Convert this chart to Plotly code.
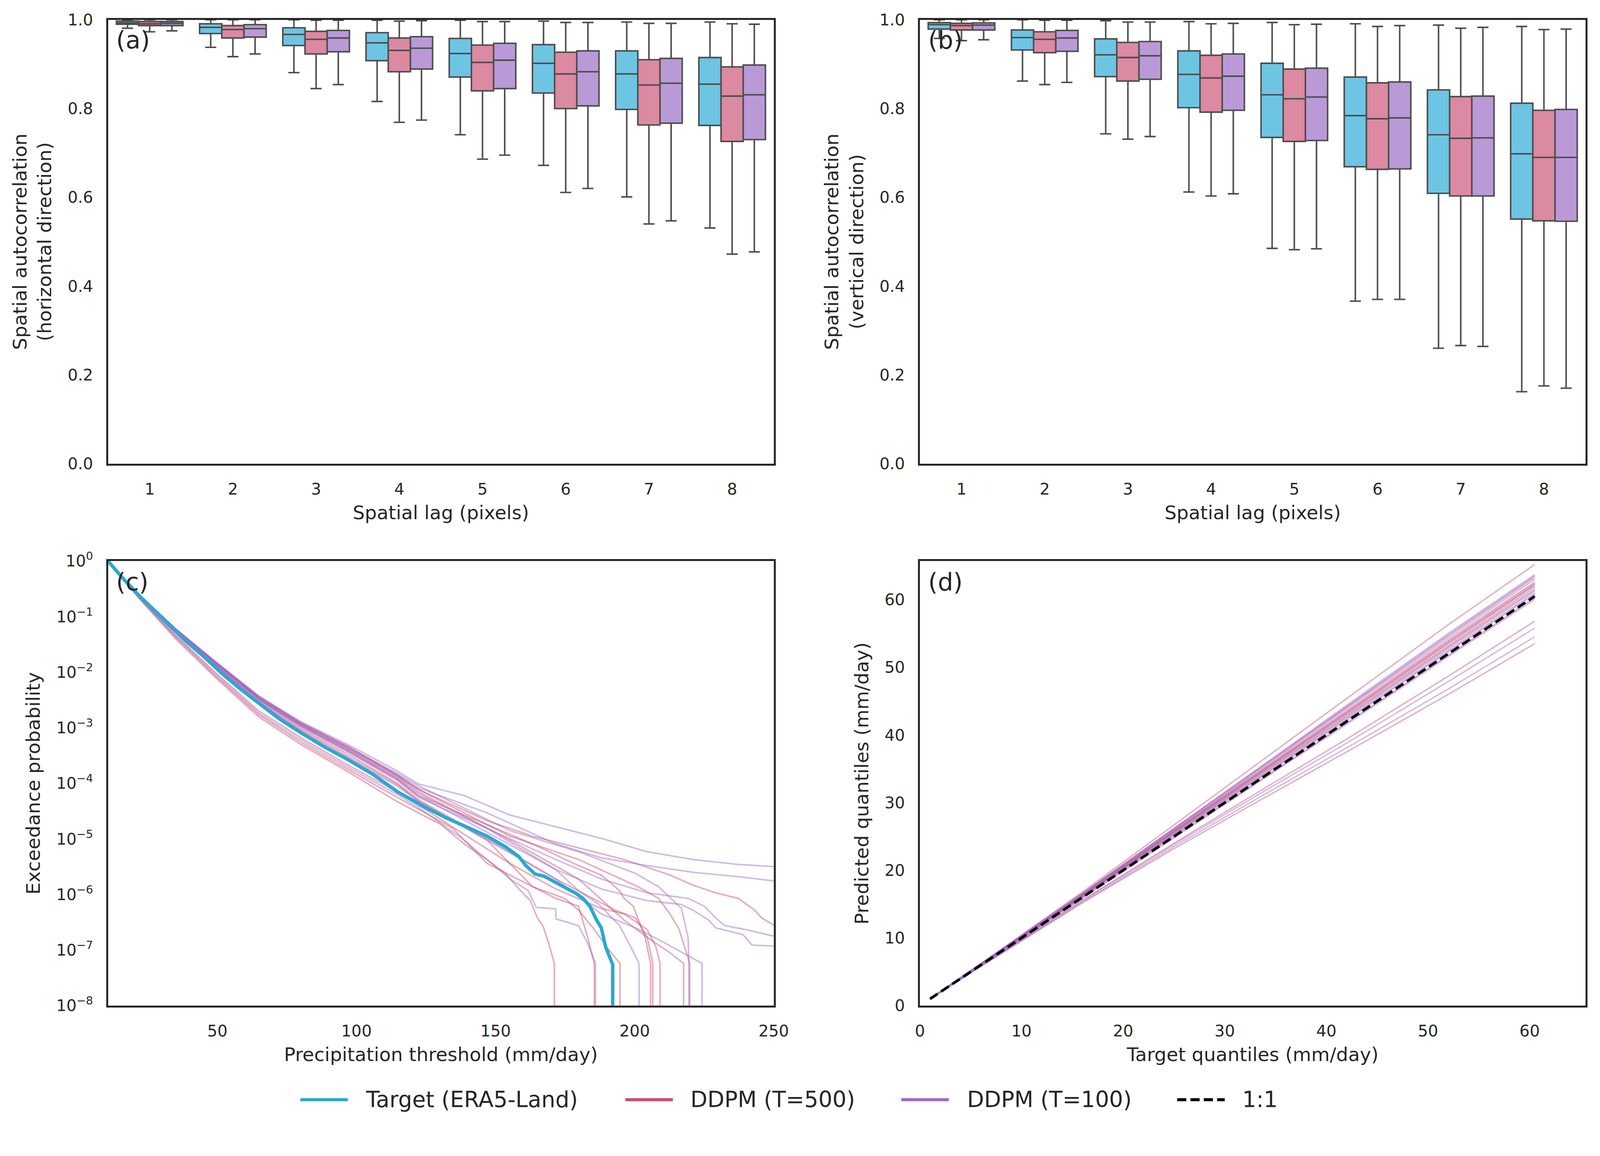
import plotly.graph_objects as go

W, H = 4204, 2959
FONT = "DejaVu Sans"
TXT = "#262626"

# ---------------- Panel (a): horizontal spatial autocorrelation ----------------
lags = [1, 2, 3, 4, 5, 6, 7, 8]

a_tgt_lo = [0.981, 0.938, 0.881, 0.816, 0.741, 0.672, 0.601, 0.531]
a_tgt_q1 = [0.990, 0.969, 0.942, 0.908, 0.871, 0.835, 0.798, 0.762]
a_tgt_md = [0.993, 0.983, 0.967, 0.948, 0.924, 0.902, 0.878, 0.855]
a_tgt_q3 = [0.997, 0.991, 0.982, 0.971, 0.958, 0.944, 0.930, 0.915]
a_tgt_hi = [1.000, 1.000, 1.000, 0.999, 0.999, 0.997, 0.995, 0.995]

a_500_lo = [0.973, 0.917, 0.845, 0.769, 0.686, 0.611, 0.540, 0.472]
a_500_q1 = [0.987, 0.959, 0.923, 0.883, 0.840, 0.800, 0.763, 0.726]
a_500_md = [0.991, 0.978, 0.956, 0.931, 0.904, 0.878, 0.853, 0.828]
a_500_q3 = [0.996, 0.987, 0.974, 0.959, 0.943, 0.927, 0.910, 0.894]
a_500_hi = [1.000, 1.000, 0.999, 0.997, 0.996, 0.994, 0.992, 0.991]

a_100_lo = [0.975, 0.923, 0.854, 0.774, 0.695, 0.620, 0.547, 0.477]
a_100_q1 = [0.987, 0.961, 0.928, 0.889, 0.845, 0.806, 0.767, 0.730]
a_100_md = [0.992, 0.980, 0.959, 0.936, 0.909, 0.883, 0.857, 0.831]
a_100_q3 = [0.996, 0.989, 0.976, 0.962, 0.947, 0.930, 0.913, 0.898]
a_100_hi = [1.000, 1.000, 0.999, 0.998, 0.996, 0.994, 0.992, 0.990]

# ---------------- Panel (b): vertical spatial autocorrelation ----------------
b_tgt_lo = [0.958, 0.862, 0.743, 0.612, 0.485, 0.366, 0.260, 0.162]
b_tgt_q1 = [0.979, 0.932, 0.872, 0.802, 0.735, 0.669, 0.609, 0.551]
b_tgt_md = [0.989, 0.960, 0.921, 0.877, 0.831, 0.784, 0.741, 0.698]
b_tgt_q3 = [0.9935, 0.977, 0.957, 0.930, 0.902, 0.871, 0.842, 0.812]
b_tgt_hi = [1.000, 1.000, 0.998, 0.996, 0.994, 0.991, 0.988, 0.985]

b_500_lo = [0.953, 0.854, 0.731, 0.603, 0.482, 0.370, 0.266, 0.175]
b_500_q1 = [0.977, 0.926, 0.862, 0.792, 0.726, 0.663, 0.603, 0.547]
b_500_md = [0.987, 0.956, 0.915, 0.869, 0.822, 0.777, 0.733, 0.690]
b_500_q3 = [0.992, 0.973, 0.949, 0.920, 0.889, 0.858, 0.827, 0.796]
b_500_hi = [1.000, 0.999, 0.995, 0.991, 0.989, 0.985, 0.981, 0.978]

b_100_lo = [0.955, 0.859, 0.737, 0.608, 0.484, 0.370, 0.264, 0.170]
b_100_q1 = [0.977, 0.929, 0.866, 0.796, 0.728, 0.664, 0.603, 0.546]
b_100_md = [0.988, 0.959, 0.919, 0.873, 0.826, 0.779, 0.734, 0.690]
b_100_q3 = [0.993, 0.976, 0.951, 0.923, 0.891, 0.860, 0.828, 0.798]
b_100_hi = [1.000, 0.999, 0.995, 0.992, 0.990, 0.987, 0.983, 0.979]

# ---------------- Panel (c): exceedance probability (log10 values) ----------------
c_head_x = [10.7, 22.0, 35.0, 50.0, 65.0, 80.0, 97.2, 114.7]

c_tgt_x = [10.7, 16, 22, 30, 38, 44.7, 52, 58.7, 66, 72, 79.7, 88, 97.2, 106, 114.7, 123.5,
           132.2, 140, 146.9, 153.5, 158.4, 160.9, 164.2, 167.4, 173.2, 178.9, 181.4, 183.9,
           186.3, 188.0, 189.6, 192.1, 192.1]
c_tgt_logp = [0, -0.31, -0.63, -1.03, -1.41, -1.70, -2.04, -2.32, -2.61, -2.83, -3.08, -3.33,
              -3.58, -3.84, -4.15, -4.40, -4.62, -4.795, -4.95, -5.14, -5.32, -5.48, -5.63, -5.67,
              -5.83, -5.98, -6.07, -6.21, -6.46, -6.60, -6.95, -7.26, -9.0]

c_500_head = [
    [0, -0.61, -1.22, -1.84, -2.44, -2.91, -3.34, -3.86],
    [0, -0.68, -1.40, -2.13, -2.81, -3.30, -3.80, -4.33],
    [0, -0.67, -1.37, -2.10, -2.77, -3.26, -3.76, -4.25],
    [0, -0.62, -1.26, -1.91, -2.54, -3.04, -3.52, -4.02],
    [0, -0.62, -1.24, -1.87, -2.49, -2.96, -3.42, -3.92],
    [0, -0.62, -1.25, -1.90, -2.52, -3.01, -3.48, -4.00],
    [0, -0.65, -1.33, -2.04, -2.70, -3.18, -3.68, -4.15],
    [0, -0.62, -1.23, -1.86, -2.47, -2.94, -3.39, -3.88],
    [0, -0.61, -1.23, -1.85, -2.46, -2.93, -3.37, -3.85],
]
c_500_tail_x = [
    [122.2, 146.9, 163.3, 179.8, 196.2, 212.7, 220.9, 229.1, 237.3, 243.1, 245.6, 251.0],
    [122.2, 130.4, 138.7, 146.9, 153.5, 158.4, 162.5, 165.0, 167.0, 169.1, 171.1, 171.1],
    [122.2, 134.6, 146.9, 155.1, 163.3, 171.6, 179.8, 183.1, 185.5, 185.5],
    [122.2, 146.9, 163.3, 174.8, 179.8, 185.5, 190.5, 194.7, 194.7],
    [122.2, 146.9, 163.3, 179.8, 188.0, 194.6, 196.2, 199.5, 203.6, 205.7, 205.7],
    [122.2, 155.1, 171.6, 192.9, 200.3, 204.5, 206.5, 206.5],
    [122.2, 155.1, 171.6, 188.0, 196.2, 204.5, 207.7, 209.1, 209.1],
    [122.2, 155.1, 179.8, 196.2, 204.5, 212.7, 217.6, 217.6],
    [122.2, 155.1, 179.8, 201.2, 208.6, 212.7, 216.0, 219.8, 219.8],
]
c_500_tail_logp = [
    [-4.11, -4.67, -4.95, -5.16, -5.37, -5.65, -5.83, -5.97, -6.07, -6.28, -6.42, -6.58],
    [-4.53, -4.74, -5.09, -5.37, -5.62, -5.90, -6.11, -6.42, -6.56, -6.88, -7.24, -9.0],
    [-4.46, -4.81, -5.44, -5.65, -5.86, -6.07, -6.21, -6.77, -7.24, -9.0],
    [-4.32, -5.02, -5.86, -6.07, -6.28, -6.63, -6.98, -7.24, -9.0],
    [-4.22, -4.74, -5.09, -5.48, -5.65, -5.93, -6.07, -6.21, -6.74, -7.24, -9.0],
    [-4.29, -5.23, -5.72, -6.28, -6.42, -6.77, -7.24, -9.0],
    [-4.39, -5.44, -5.90, -6.25, -6.35, -6.63, -6.95, -7.24, -9.0],
    [-4.15, -5.02, -5.72, -6.46, -6.77, -7.05, -7.24, -9.0],
    [-4.11, -4.95, -5.37, -5.86, -6.07, -6.35, -6.63, -7.24, -9.0],
]

c_100_head = [
    [0, -0.61, -1.22, -1.84, -2.43, -2.89, -3.31, -3.78],
    [0, -0.61, -1.23, -1.85, -2.45, -2.92, -3.36, -3.85],
    [0, -0.62, -1.24, -1.87, -2.48, -2.95, -3.40, -3.90],
    [0, -0.62, -1.24, -1.88, -2.49, -2.97, -3.43, -3.93],
    [0, -0.66, -1.35, -2.07, -2.74, -3.22, -3.72, -4.20],
    [0, -0.62, -1.25, -1.88, -2.50, -2.98, -3.44, -3.95],
    [0, -0.61, -1.23, -1.85, -2.45, -2.91, -3.35, -3.82],
    [0, -0.63, -1.27, -1.92, -2.55, -3.06, -3.55, -4.05],
]
c_100_tail_x = [
    [122.2, 138.7, 155.1, 171.6, 188.0, 204.5, 220.9, 237.3, 251.0],
    [122.2, 146.9, 171.6, 188.0, 204.5, 220.9, 237.3, 251.0],
    [122.2, 146.9, 171.6, 188.0, 204.5, 219.2, 225.0, 229.1, 232.4, 239.8, 251.0],
    [122.2, 146.9, 171.6, 188.0, 204.5, 216.8, 220.9, 226.6, 229.1, 238.9, 242.2, 251.0],
    [122.2, 138.7, 155.1, 161.7, 164.6, 171.6, 171.7, 179.8, 183.1, 185.9, 185.9],
    [122.2, 146.9, 171.6, 179.8, 187.2, 194.6, 198.7, 201.6, 201.6],
    [122.2, 155.1, 179.8, 200.3, 208.6, 216.8, 219.2, 219.5, 219.5],
    [122.2, 146.9, 171.6, 188.0, 200.3, 208.6, 224.2, 224.2],
]
c_100_tail_logp = [
    [-4.01, -4.22, -4.57, -4.78, -4.99, -5.23, -5.37, -5.46, -5.50],
    [-4.08, -4.53, -5.09, -5.34, -5.48, -5.60, -5.68, -5.76],
    [-4.18, -4.81, -5.37, -5.72, -5.97, -6.07, -6.21, -6.42, -6.56, -6.63, -6.76],
    [-4.22, -4.88, -5.55, -5.90, -6.11, -6.18, -6.28, -6.46, -6.60, -6.72, -6.91, -6.93],
    [-4.43, -5.02, -5.72, -5.93, -6.23, -6.26, -6.44, -6.56, -6.88, -7.24, -9.0],
    [-4.25, -4.81, -5.55, -5.93, -6.18, -6.56, -6.95, -7.24, -9.0],
    [-4.04, -4.85, -5.23, -5.62, -5.86, -6.25, -6.77, -7.24, -9.0],
    [-4.32, -5.02, -5.72, -6.35, -6.60, -6.81, -7.24, -9.0],
]

# ---------------- Panel (d): quantile-quantile ----------------
d_target_q = [1.0, 6.0, 16.0, 25.0, 34.0, 42.0, 52.0, 60.5]
d_500_pred = [
    [1.0, 6.2, 16.8, 26.7, 36.6, 45.4, 56.3, 65.2],
    [1.0, 6.2, 16.5, 26.1, 35.6, 44.1, 54.6, 63.3],
    [1.0, 6.1, 16.4, 25.9, 35.2, 43.6, 54.0, 62.6],
    [1.0, 6.1, 16.4, 25.8, 35.1, 43.4, 53.8, 62.4],
    [1.0, 6.1, 16.3, 25.7, 34.9, 43.2, 53.5, 62.1],
    [1.0, 6.1, 16.3, 25.6, 34.8, 43.0, 53.2, 61.8],
    [1.0, 6.1, 16.2, 25.5, 34.6, 42.8, 53.0, 61.5],
    [1.0, 6.0, 16.0, 25.0, 33.9, 41.8, 51.8, 60.3],
    [1.0, 5.9, 15.6, 24.0, 32.2, 39.4, 48.7, 56.8],
    [1.0, 5.8, 15.2, 23.2, 30.8, 37.5, 46.0, 53.5],
]
d_100_pred = [
    [1.0, 6.2, 16.6, 26.2, 35.8, 44.4, 55.0, 63.7],
    [1.0, 6.2, 16.6, 26.2, 35.7, 44.2, 54.8, 63.5],
    [1.0, 6.2, 16.5, 26.0, 35.4, 43.9, 54.3, 63.0],
    [1.0, 6.1, 16.3, 25.7, 35.0, 43.3, 53.6, 62.2],
    [1.0, 6.1, 16.2, 25.4, 34.5, 42.6, 52.8, 61.3],
    [1.0, 6.0, 16.1, 25.3, 34.3, 42.4, 52.5, 61.0],
    [1.0, 6.0, 16.1, 25.2, 34.2, 42.2, 52.3, 60.8],
    [1.0, 6.0, 15.9, 24.8, 33.7, 41.6, 51.6, 60.05],
    [1.0, 5.9, 15.5, 23.8, 31.8, 38.8, 47.9, 55.8],
    [1.0, 5.8, 15.3, 23.5, 31.3, 38.1, 46.8, 54.5],
]
d_one_to_one = [1.0, 60.5]

legend_labels = ["Target (ERA5-Land)", "DDPM (T=500)", "DDPM (T=100)", "1:1"]

# ---------------- colours ----------------
BOX_TGT, BOX_500, BOX_100 = "#6DC5E3", "#DC89A2", "#B99AD7"
LINE_TGT, LINE_500, LINE_100 = "#2AA8D4", "#C94F72", "#9B6BC8"
LINE_500_A = "rgba(201,79,114,0.47)"
LINE_100_A = "rgba(155,107,200,0.47)"
EDGE = "#4d4d4d"

fig = go.Figure()

def add_boxes(xa, ya, groups):
    for name, fill, lo, q1, md, q3, hi in groups:
        fig.add_trace(go.Box(
            x=lags, lowerfence=lo, q1=q1, median=md, q3=q3, upperfence=hi,
            name=name, offsetgroup=name, fillcolor=fill,
            line=dict(color=EDGE, width=4), whiskerwidth=0.5, boxpoints=False,
            xaxis=xa, yaxis=ya, showlegend=False, hoverinfo="skip"))

add_boxes("x", "y", [
    ("tgt", BOX_TGT, a_tgt_lo, a_tgt_q1, a_tgt_md, a_tgt_q3, a_tgt_hi),
    ("t500", BOX_500, a_500_lo, a_500_q1, a_500_md, a_500_q3, a_500_hi),
    ("t100", BOX_100, a_100_lo, a_100_q1, a_100_md, a_100_q3, a_100_hi),
])
add_boxes("x2", "y2", [
    ("tgt", BOX_TGT, b_tgt_lo, b_tgt_q1, b_tgt_md, b_tgt_q3, b_tgt_hi),
    ("t500", BOX_500, b_500_lo, b_500_q1, b_500_md, b_500_q3, b_500_hi),
    ("t100", BOX_100, b_100_lo, b_100_q1, b_100_md, b_100_q3, b_100_hi),
])

# panel (c)
for head, tx, tl in zip(c_500_head, c_500_tail_x, c_500_tail_logp):
    fig.add_trace(go.Scatter(x=c_head_x + tx, y=[10 ** v for v in head + tl], mode="lines",
                             line=dict(color=LINE_500_A, width=4), xaxis="x3", yaxis="y3",
                             showlegend=False, hoverinfo="skip"))
for head, tx, tl in zip(c_100_head, c_100_tail_x, c_100_tail_logp):
    fig.add_trace(go.Scatter(x=c_head_x + tx, y=[10 ** v for v in head + tl], mode="lines",
                             line=dict(color=LINE_100_A, width=4), xaxis="x3", yaxis="y3",
                             showlegend=False, hoverinfo="skip"))
fig.add_trace(go.Scatter(x=c_tgt_x, y=[10 ** v for v in c_tgt_logp], mode="lines",
                         line=dict(color=LINE_TGT, width=9), xaxis="x3", yaxis="y3",
                         showlegend=False, hoverinfo="skip"))

# panel (d)
for pred in d_500_pred:
    fig.add_trace(go.Scatter(x=d_target_q, y=pred, mode="lines",
                             line=dict(color=LINE_500_A, width=3.5), xaxis="x4", yaxis="y4",
                             showlegend=False, hoverinfo="skip"))
for pred in d_100_pred:
    fig.add_trace(go.Scatter(x=d_target_q, y=pred, mode="lines",
                             line=dict(color=LINE_100_A, width=3.5), xaxis="x4", yaxis="y4",
                             showlegend=False, hoverinfo="skip"))
fig.add_trace(go.Scatter(x=d_one_to_one, y=d_one_to_one, mode="lines",
                         line=dict(color="black", width=7, dash="24px,11px"),
                         xaxis="x4", yaxis="y4", showlegend=False, hoverinfo="skip"))

# ---------------- axes ----------------
def px_x(p):
    return p / W

def px_y(p):
    return 1 - p / H

XL = [px_x(284), px_x(2033)]
XR = [px_x(2417), px_x(4166)]
YT = [px_y(1218), px_y(52)]
YB = [px_y(2642), px_y(1474)]

tickfont = dict(family=FONT, size=42, color=TXT)
titlefont = dict(family=FONT, size=50, color=TXT)

def ax(**kw):
    base = dict(showline=True, linecolor=TXT, linewidth=5, mirror=True, showgrid=False,
                zeroline=False, ticks="", tickfont=tickfont, ticklabelstandoff=26,
                automargin=False)
    base.update(kw)
    return base

auto_vals = [0, 0.2, 0.4, 0.6, 0.8, 1.0]
auto_text = ["0.0", "0.2", "0.4", "0.6", "0.8", "1.0"]

fig.update_layout(
    template="none",
    width=W, height=H, autosize=False,
    margin=dict(l=0, r=0, t=0, b=0, pad=0),
    paper_bgcolor="white", plot_bgcolor="white",
    font=dict(family=FONT, color=TXT),
    boxmode="group", boxgap=0.2, boxgroupgap=0.0,
    showlegend=False,
    xaxis=ax(domain=XL, anchor="y", range=[0.5, 8.5], tickvals=lags,
             title=dict(text="Spatial lag (pixels)", font=titlefont, standoff=22)),
    yaxis=ax(domain=YT, anchor="x", range=[0, 1.0], tickvals=auto_vals, ticktext=auto_text,
             title=dict(text="Spatial autocorrelation<br>(horizontal direction)", font=titlefont, standoff=28)),
    xaxis2=ax(domain=XR, anchor="y2", range=[0.5, 8.5], tickvals=lags,
              title=dict(text="Spatial lag (pixels)", font=titlefont, standoff=22)),
    yaxis2=ax(domain=YT, anchor="x2", range=[0, 1.0], tickvals=auto_vals, ticktext=auto_text,
              title=dict(text="Spatial autocorrelation<br>(vertical direction)", font=titlefont, standoff=28)),
    xaxis3=ax(domain=XL, anchor="y3", range=[10.7, 250], tickvals=[50, 100, 150, 200, 250],
              title=dict(text="Precipitation threshold (mm/day)", font=titlefont, standoff=22)),
    yaxis3=ax(domain=YB, anchor="x3", type="log", range=[-8, 0],
              tickvals=[10 ** -k for k in range(0, 9)],
              ticktext=["10<sup>0</sup>"] + ["10<sup>\u2212%d</sup>" % k for k in range(1, 9)],
              title=dict(text="Exceedance probability", font=titlefont, standoff=28)),
    xaxis4=ax(domain=XR, anchor="y4", range=[0, 65.5], tickvals=[0, 10, 20, 30, 40, 50, 60],
              title=dict(text="Target quantiles (mm/day)", font=titlefont, standoff=22)),
    yaxis4=ax(domain=YB, anchor="x4", range=[0, 65.7], tickvals=[0, 10, 20, 30, 40, 50, 60],
              title=dict(text="Predicted quantiles (mm/day)", font=titlefont, standoff=28)),
)

# panel labels
for lab, xp, yp in [("(a)", 303, 105), ("(b)", 2437, 105), ("(c)", 303, 1529), ("(d)", 2437, 1529)]:
    fig.add_annotation(text=lab, x=px_x(xp), y=px_y(yp), xref="paper", yref="paper",
                       xanchor="left", yanchor="middle", showarrow=False,
                       font=dict(family=FONT, size=64, color=TXT))

# manual legend (long line handles as in the reference)
leg_y = px_y(2889)
leg_items = [
    (legend_labels[0], LINE_TGT, "solid", 789, 914, 959),
    (legend_labels[1], LINE_500, "solid", 1643, 1768, 1812),
    (legend_labels[2], LINE_100, "solid", 2368, 2493, 2539),
    (legend_labels[3], "black", "24px,11px", 3093, 3218, 3262),
]
for label, col, dash, x0, x1, xt in leg_items:
    fig.add_shape(type="line", xref="paper", yref="paper", x0=px_x(x0), x1=px_x(x1),
                  y0=leg_y, y1=leg_y, line=dict(color=col, width=8, dash=dash))
    fig.add_annotation(text=label, x=px_x(xt), y=leg_y, xref="paper", yref="paper",
                       xanchor="left", yanchor="middle", showarrow=False,
                       font=dict(family=FONT, size=58, color=TXT))

# fit the fixed-size figure exactly into the visible viewport (no page margin / scrollbars)
fit_js = (
    "var gd=document.getElementById('{plot_id}');"
    "document.documentElement.style.margin='0';"
    "document.body.style.margin='0';document.body.style.overflow='hidden';"
    "document.documentElement.style.overflow='hidden';"
    "var s=Math.min(window.innerWidth/%d, window.innerHeight/%d);"
    "if(s>0&&s<1){gd.style.transformOrigin='0 0';gd.style.transform='scale('+s+')';}" % (W, H)
)

fig.write_html("out.html", config={"responsive": False, "displayModeBar": False},
               post_script=fit_js)
